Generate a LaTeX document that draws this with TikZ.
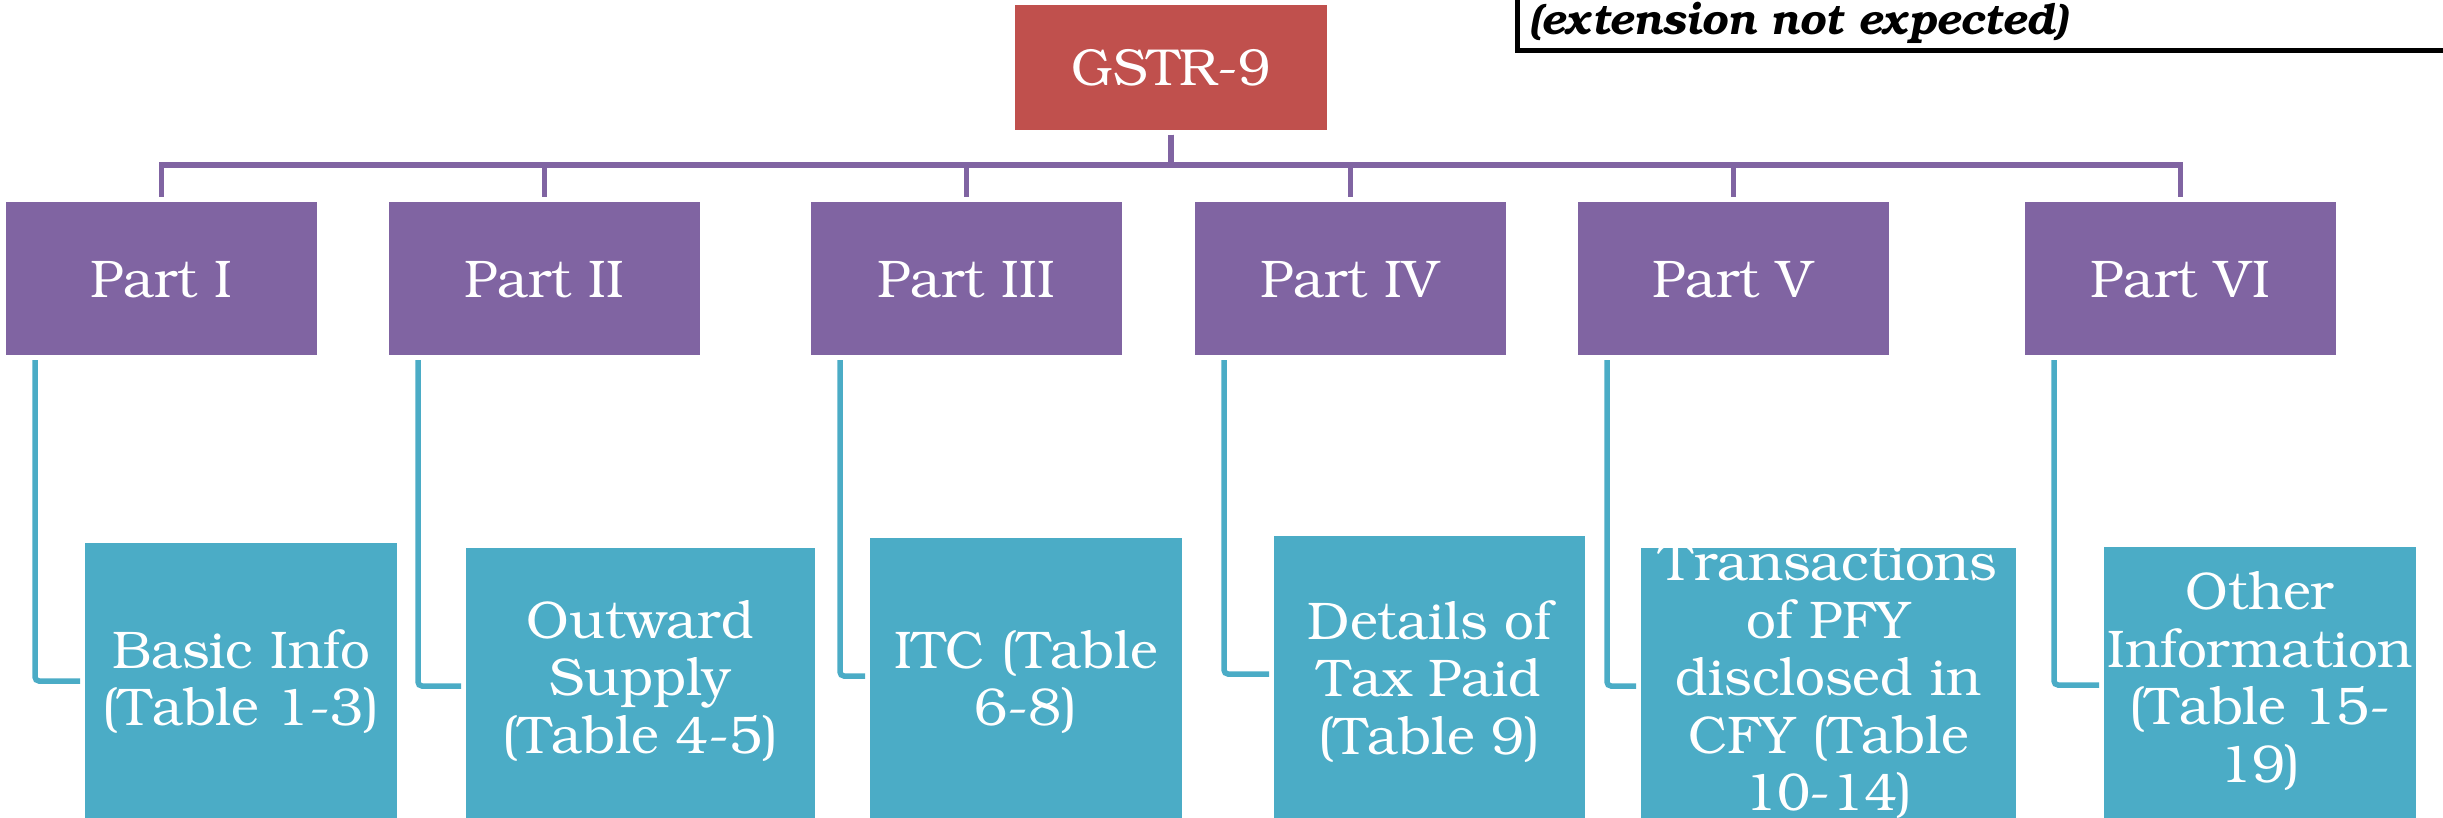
\documentclass[tikz,border=0pt]{standalone}
\usepackage[T1]{fontenc}
\usepackage{bookman}
\definecolor{gred}{HTML}{C0504D}
\definecolor{gpurple}{HTML}{8064A2}
\definecolor{gteal}{HTML}{4BACC6}
\begin{document}
\begin{tikzpicture}[x=1pt,y=-1pt,
  every node/.style={inner sep=0pt, outer sep=0pt},
  gbox/.style={fill=gred, text=white, minimum width=312pt, minimum height=125pt, anchor=north west, font=\fontsize{52}{56}\selectfont},
  pbox/.style={fill=gpurple, text=white, minimum width=311pt, minimum height=153pt, anchor=north west, font=\fontsize{53}{57}\selectfont},
  cbox/.style={fill=gteal, minimum height=300pt, anchor=north west},
  ctext/.style={text=white, align=center, font=\fontsize{53}{57.5}\selectfont},
  pline/.style={draw=gpurple, line width=5.5pt, shorten <=5pt, shorten >=5pt},
  tline/.style={draw=gteal, line width=5.5pt, rounded corners=4pt, shorten <=5pt, shorten >=5pt},
  notebox/.style={draw=black, line width=5pt}]
\useasboundingbox (0,0) rectangle (2443,818);
\clip (0,0) rectangle (2443,818);
\coordinate (ymid) at (0,681);

% note box at top right
\draw[notebox] (1517,-60) rectangle (2480,51);
\node[anchor=base west, font=\fontsize{42.5}{46}\selectfont\bfseries\itshape] (note) at (1530,35) {(extension not expected)};

% root
\node[gbox] (g) at (1015,5) {GSTR-9};

% parts
\node[pbox] (p1) at (6,202) {Part I};
\node[pbox] (p2) at (389,202) {Part II};
\node[pbox] (p3) at (811,202) {Part III};
\node[pbox] (p4) at (1195,202) {Part IV};
\node[pbox] (p5) at (1578,202) {Part V};
\node[pbox] (p6) at (2025,202) {Part VI};

% children boxes
\node[cbox, minimum width=312pt] (c1) at (85,543) {};
\node[cbox, minimum width=349pt] (c2) at (466,548) {};
\node[cbox, minimum width=312pt] (c3) at (870,538) {};
\node[cbox, minimum width=311pt] (c4) at (1274,536) {};
\node[cbox, minimum width=375pt] (c5) at (1641,548) {};
\node[cbox, minimum width=312pt] (c6) at (2104,547) {};

% children texts
\node[ctext] (t1) at (c1.north |- ymid) {Basic Info\\(Table 1-3)};
\node[ctext] (t2) at (c2.north |- ymid) {Outward\\Supply\\(Table 4-5)};
\node[ctext] (t3) at (c3.north |- ymid) {ITC (Table\\6-8)};
\node[ctext] (t4) at (c4.north |- ymid) {Details of\\Tax Paid\\(Table 9)};
\node[ctext] (t5) at (c5.north |- ymid) {Transactions\\of PFY\\disclosed in\\CFY (Table\\10-14)};
\node[ctext] (t6) at (c6.north |- ymid) {Other\\Information\\(Table 15-\\19)};

% purple tree connectors
\foreach \p in {p1,p2,p3,p4,p5,p6}{
  \draw[pline] (g.south) -- ++(0,35) -| (\p.north);
}

% teal connectors
\foreach \p/\c in {p1/c1,p2/c2,p3/c3,p4/c4,p5/c5,p6/c6}{
  \draw[tline] ([xshift=29pt]\p.south west) |- ([yshift=-138pt]\c.north west);
}
\end{tikzpicture}
\end{document}
